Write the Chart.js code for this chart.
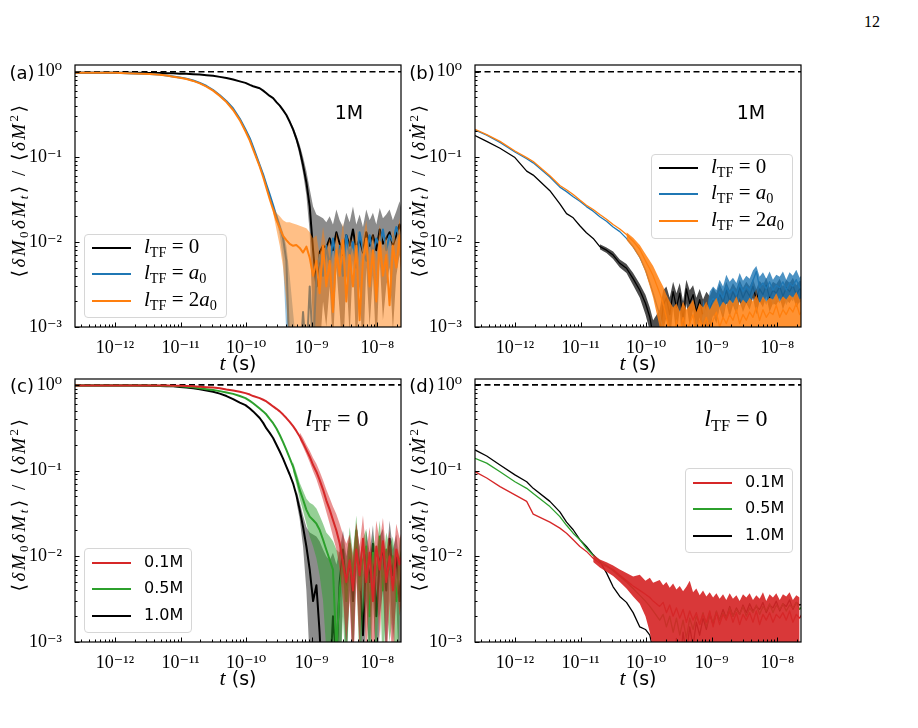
<!DOCTYPE html>
<html><head><meta charset="utf-8">
<script src="https://cdn.jsdelivr.net/npm/chart.js@4.4.0/dist/chart.umd.min.js"></script>
<style>
body{margin:0;background:#fff;width:918px;height:728px;position:relative;overflow:hidden;font-family:'DejaVu Sans',sans-serif;color:#000}
.pane{position:absolute;width:410px;height:325px}
.txt{position:absolute;white-space:nowrap;line-height:1}
.serif{font-family:'Liberation Serif','DejaVu Serif',serif}
.ylab{transform:translate(-50%,-50%) rotate(-90deg);font-size:19px;letter-spacing:2.5px}
.ctr{transform:translate(-50%,-50%)}
.leg{position:absolute;border:1px solid #d6d6d6;border-radius:4px;background:rgba(255,255,255,0.85)}
.row{position:absolute;left:0;height:0}
.sw{position:absolute;left:7px;width:39px;height:0;top:-1px}
.lt{position:absolute;left:59px;transform:translateY(-55%);white-space:nowrap;line-height:1}
sub{font-size:0.68em;vertical-align:-0.28em;line-height:0}
sup{font-size:0.68em;vertical-align:0.5em;line-height:0}
</style></head><body>
<div class="txt serif" style="left:864px;top:14px;font-size:16px">12</div>
<div class="pane" style="left:0;top:55px"><canvas id="ca" width="410" height="325"></canvas></div>
<div class="pane" style="left:400px;top:55px"><canvas id="cb" width="410" height="325"></canvas></div>
<div class="pane" style="left:0;top:369px;height:326px"><canvas id="cc" width="410" height="326"></canvas></div>
<div class="pane" style="left:400px;top:369px;height:326px"><canvas id="cd" width="410" height="326"></canvas></div>

<div class="txt ctr" style="left:22px;top:73px;font-size:18px">(a)</div>
<div class="txt ctr" style="left:422px;top:73px;font-size:18px">(b)</div>
<div class="txt ctr" style="left:22px;top:386px;font-size:18px">(c)</div>
<div class="txt ctr" style="left:422px;top:386px;font-size:18px">(d)</div>

<div class="txt ctr" style="left:349px;top:112px;font-size:19px">1M</div>
<div class="txt ctr" style="left:751px;top:112px;font-size:19px">1M</div>
<div class="txt ctr serif" style="left:337px;top:418px;font-size:24px"><i>l</i><sub>TF</sub> = 0</div>
<div class="txt ctr serif" style="left:736px;top:418px;font-size:24px"><i>l</i><sub>TF</sub> = 0</div>

<div class="txt ctr" style="left:238px;top:363px;font-size:19px"><i class="serif" style="font-size:22px">t</i> (s)</div>
<div class="txt ctr" style="left:638px;top:363px;font-size:19px"><i class="serif" style="font-size:22px">t</i> (s)</div>
<div class="txt ctr" style="left:238px;top:678px;font-size:19px"><i class="serif" style="font-size:22px">t</i> (s)</div>
<div class="txt ctr" style="left:638px;top:678px;font-size:19px"><i class="serif" style="font-size:22px">t</i> (s)</div>

<div class="txt serif ylab" style="left:18px;top:190px">⟨<i>δM</i><sub>0</sub><i>δM</i><sub><i>t</i></sub>⟩ / ⟨<i>δM</i><sup>2</sup>⟩</div>
<div class="txt serif ylab" style="left:418px;top:190px">⟨<i>δṀ</i><sub>0</sub><i>δṀ</i><sub><i>t</i></sub>⟩ / ⟨<i>δṀ</i><sup>2</sup>⟩</div>
<div class="txt serif ylab" style="left:18px;top:504px">⟨<i>δM</i><sub>0</sub><i>δM</i><sub><i>t</i></sub>⟩ / ⟨<i>δM</i><sup>2</sup>⟩</div>
<div class="txt serif ylab" style="left:418px;top:504px">⟨<i>δṀ</i><sub>0</sub><i>δṀ</i><sub><i>t</i></sub>⟩ / ⟨<i>δṀ</i><sup>2</sup>⟩</div>

<div id="legs"></div>

<script>
// ---------------- data ----------------
const T = [2.46e-13,3.71e-13,5.92e-13,1e-12,1.51e-12,1.90e-12,3.41e-12,4.84e-12,6.12e-12,7.73e-12,
 9.77e-12,1.23e-11,1.56e-11,1.97e-11,2.49e-11,3.14e-11,3.97e-11,5.02e-11,6.34e-11,8.01e-11,
 9.77e-11,1.14e-10,1.28e-10,1.61e-10,1.82e-10,2.04e-10,2.29e-10,2.58e-10,2.90e-10,3.26e-10,
 3.66e-10,4.11e-10,4.62e-10,5.20e-10,5.83e-10,6.56e-10,7.38e-10,8.30e-10,9.33e-10,1.05e-9,
 1.18e-9,1.32e-9,1.49e-9,1.67e-9,1.88e-9,2.11e-9,2.38e-9,2.67e-9,3.00e-9,3.37e-9,
 3.79e-9,4.26e-9,4.79e-9,5.38e-9,6.05e-9,6.79e-9,7.64e-9,8.59e-9,9.66e-9,1.09e-8,
 1.22e-8,1.37e-8,1.54e-8,1.73e-8,1.95e-8,2.19e-8,2.46e-8];

const xRange = [2.46e-13, 2.3e-8];
const yMinAll = 1e-3, yMaxTop = 1.2, yMaxBottom = 1.17;
const xTicks = [1e-12,1e-11,1e-10,1e-9,1e-8];
const xTickLabels = ['10⁻¹²','10⁻¹¹','10⁻¹⁰','10⁻⁹','10⁻⁸'];
const yTicks = [1e-3,1e-2,1e-1,1];
const yTickLabels = ['10⁻³','10⁻²','10⁻¹','10⁰'];
const refLine = [1, 1];

// panel (a)
const aBlack = [0.975,0.975,0.975,0.974,0.973,0.972,0.968,0.965,0.962,0.958,
 0.95,0.945,0.935,0.925,0.91,0.895,0.87,0.845,0.81,0.77,
 0.74,0.70,0.675,0.64,0.60,0.56,0.52,0.49,0.44,0.40,
 0.354,0.31,0.258,0.21,0.164,0.12,0.08,0.05,0.026,0.008,
 0.003,0.0075,0.009,0.0085,0.011,0.008,0.013,0.0095,0.007,0.012,
 0.009,0.014,0.008,0.011,0.0075,0.013,0.009,0.012,0.008,0.014,
 0.0095,0.011,0.013,0.009,0.012,0.016,0.011];
const aBlackBandFrom = 32;
const aBlackHi = [0.27,0.225,0.18,0.14,0.1,0.068,0.042,0.026,0.021,0.02,0.019,0.017,
 0.02,0.016,0.024,0.018,0.015,0.022,0.017,0.026,0.016,0.021,0.015,0.024,0.018,0.022,0.016,0.025,0.019,0.021,0.024,0.018,0.023,0.03,0.02];
const aBlackLo = [0.25,0.198,0.15,0.102,0.064,0.035,0.013,0.0008,0.0003,0.0005,0.002,0.001,
 0.003,0.0006,0.005,0.0015,0.0004,0.004,0.0008,0.006,0.0005,0.003,0.0004,0.005,0.001,0.004,0.0005,0.006,0.0012,0.003,0.005,0.0009,0.004,0.007,0.003];
const aBlue = [0.975,0.974,0.972,0.97,0.96,0.955,0.94,0.925,0.905,0.88,
 0.855,0.83,0.79,0.74,0.68,0.61,0.53,0.45,0.37,0.28,
 0.21,0.165,0.13,0.08,0.062,0.047,0.036,0.027,0.02,0.015,
 0.011,0.006,0.0004,0.0002,0.0002,0.0003,0.0015,0.0004,0.003,0.0005,
 0.004,0.007,0.004,0.009,0.005,0.011,0.006,0.009,0.004,0.012,
 0.007,0.01,0.005,0.013,0.008,0.006,0.012,0.007,0.011,0.009,
 0.014,0.008,0.012,0.01,0.015,0.011,0.013];
const aBlueBandFrom = 28;
const aBlueHi = [0.022,0.017,0.013,0.009,0.004,0.0015,0.0006];
const aBlueLo = [0.018,0.012,0.006,0.0008,0.0001,0.0001,0.0001];
const aOrange = [0.975,0.974,0.972,0.97,0.96,0.955,0.94,0.923,0.902,0.875,
 0.85,0.82,0.78,0.73,0.67,0.60,0.52,0.44,0.355,0.27,
 0.2,0.155,0.122,0.077,0.058,0.043,0.032,0.024,0.018,0.0145,
 0.0118,0.0105,0.0095,0.009,0.0092,0.0085,0.0075,0.0088,0.0065,0.004,
 0.006,0.0025,0.009,0.003,0.006,0.0015,0.008,0.004,0.0105,0.002,
 0.007,0.003,0.009,0.0012,0.006,0.011,0.003,0.008,0.002,0.01,
 0.004,0.007,0.0018,0.009,0.005,0.012,0.003];
const aOrangeBandFrom = 27;
const aOrangeHi = [0.026,0.022,0.02,0.018,0.017,0.017,0.0165,0.016,0.0155,0.015,0.0145,0.013,0.011,
 0.012,0.007,0.015,0.008,0.011,0.005,0.013,0.008,0.017,0.006,
 0.012,0.007,0.014,0.005,0.011,0.018,0.007,0.013,0.006,0.016,
 0.008,0.012,0.005,0.014,0.01,0.019,0.007];
const aOrangeLo = [0.022,0.014,0.009,0.005,0.002,0.0004,
 1e-4,1e-4,1e-4,1e-4,1e-4,1e-4,1e-4,1e-4,1e-4,1e-4,1e-4,1e-4,1e-4,1e-4,1e-4,1e-4,1e-4,
 1e-4,1e-4,1e-4,1e-4,1e-4,1e-4,1e-4,1e-4,1e-4,1e-4,1e-4,1e-4,1e-4,1e-4,1e-4,1e-4,1e-4];

// panel (b)
const bBlack = [0.178,0.152,0.126,0.098,0.068,0.061,0.040,0.028,0.0215,0.0192,
 0.0155,0.0128,0.011,0.0088,0.008,0.007,0.0056,0.0049,0.0037,0.0027,
 0.0019,0.0013,0.0008,0.0007,0.0018,0.0022,0.0014,0.0026,0.0017,0.0025,
 0.0012,0.0028,0.0019,0.0024,0.0015,0.0021,0.0013,0.0019,0.0016,0.0022,
 0.0018,0.0025,0.0019,0.0027,0.002,0.0026,0.0021,0.0029,0.0022,0.0027,
 0.0023,0.003,0.0021,0.0028,0.0024,0.0031,0.0022,0.0027,0.0025,0.003,
 0.0023,0.0029,0.0026,0.0031,0.0024,0.0028,0.0027];
const bBlackBandFrom = 13;
const bBlackHi = [0.0094,0.0086,0.0077,0.0062,0.0055,0.0043,0.0032,
 0.0024,0.0017,0.0012,0.0016,0.0027,0.003,0.0022,0.0034,0.0025,0.0033,
 0.002,0.0036,0.0027,0.0031,0.0022,0.0028,0.0021,0.0026,0.0023,0.0029,
 0.0025,0.0032,0.0026,0.0034,0.0027,0.0033,0.0028,0.0036,0.0029,0.0034,
 0.003,0.0037,0.0028,0.0035,0.0031,0.0038,0.0029,0.0034,0.0032,0.0037,
 0.003,0.0036,0.0033,0.0038,0.0031,0.0035,0.0034];
const bBlackLo = [0.0082,0.0074,0.0063,0.005,0.0043,0.0031,0.0022,
 0.0014,0.0009,0.0005,0.0002,0.0009,0.0013,0.0006,0.0017,0.0008,0.0016,
 0.0004,0.0019,0.001,0.0016,0.0008,0.0013,0.0006,0.0011,0.0009,0.0014,
 0.0011,0.0017,0.0012,0.0019,0.0013,0.0018,0.0014,0.002,0.0015,0.0019,
 0.0016,0.0022,0.0014,0.002,0.0017,0.0023,0.0015,0.0019,0.0018,0.0022,
 0.0016,0.0021,0.0019,0.0023,0.0017,0.002,0.002];
const bBlue = [0.206,0.18,0.148,0.114,0.095,0.085,0.058,0.044,0.039,0.034,
 0.03,0.026,0.023,0.0198,0.0175,0.015,0.0132,0.011,0.0088,0.0066,
 0.0047,0.0033,0.0025,0.0014,0.0009,0.0006,0.0004,0.0003,0.0008,0.0004,
 0.0011,0.0005,0.0009,0.0004,0.0012,0.0006,0.0014,0.0009,0.0018,0.0022,
 0.0019,0.0026,0.0022,0.003,0.0025,0.0028,0.0024,0.0032,0.0026,0.003,
 0.0027,0.0035,0.0045,0.0029,0.0033,0.0028,0.0034,0.0027,0.0031,0.0029,
 0.0034,0.0027,0.0033,0.003,0.0036,0.0029,0.0032];
const bBlueBandFrom = 36;
const bBlueHi = [0.0021,0.0015,0.0026,0.003,
 0.0027,0.0036,0.003,0.0041,0.0034,0.0038,0.0033,0.0043,0.0035,0.004,
 0.0037,0.0046,0.0052,0.0039,0.0044,0.0037,0.0045,0.0036,0.0041,0.0039,
 0.0045,0.0036,0.0044,0.004,0.0047,0.0038,0.0043];
const bBlueLo = [0.0007,0.0004,0.0011,0.0014,
 0.0012,0.0017,0.0014,0.002,0.0016,0.0019,0.0015,0.0022,0.0017,0.002,
 0.0018,0.0024,0.0028,0.0019,0.0022,0.0018,0.0023,0.0018,0.0021,0.0019,
 0.0023,0.0018,0.0022,0.002,0.0025,0.0019,0.0022];
const bOrange = [0.21,0.182,0.152,0.117,0.098,0.088,0.06,0.046,0.041,0.036,
 0.031,0.027,0.024,0.021,0.0185,0.016,0.0142,0.0122,0.0102,0.0082,
 0.006,0.0048,0.004,0.0025,0.0019,0.0013,0.0009,0.0006,0.0012,0.0008,
 0.0013,0.0009,0.0011,0.0014,0.0008,0.0012,0.001,0.0013,0.0009,0.0012,
 0.0015,0.001,0.0013,0.0011,0.0014,0.0012,0.0016,0.0011,0.0014,0.0012,
 0.0015,0.0013,0.0017,0.0012,0.0016,0.0013,0.0015,0.0014,0.0018,0.0013,
 0.0016,0.0014,0.0017,0.0015,0.0019,0.0014,0.0016];
const bOrangeBandFrom = 17;
const bOrangeHi = [0.013,0.0112,0.0092,0.0072,0.006,0.0052,0.0036,0.003,0.0024,0.002,0.0017,0.0019,0.0015,
 0.002,0.0016,0.0018,0.0021,0.0015,0.0019,0.0017,0.002,0.0016,0.0019,
 0.0022,0.0017,0.002,0.0018,0.0021,0.0019,0.0023,0.0018,0.0021,0.0019,
 0.0022,0.002,0.0024,0.0019,0.0023,0.002,0.0022,0.0021,0.0025,0.002,
 0.0023,0.0021,0.0024,0.0022,0.0026,0.0021,0.0023];
const bOrangeLo = [0.0105,0.0085,0.0064,0.0044,0.003,0.0022,0.001,0.0006,
 1e-4,1e-4,1e-4,1e-4,1e-4,1e-4,1e-4,1e-4,1e-4,1e-4,1e-4,1e-4,1e-4,1e-4,1e-4,1e-4,1e-4,1e-4,1e-4,1e-4,1e-4,
 1e-4,1e-4,1e-4,1e-4,1e-4,1e-4,1e-4,1e-4,1e-4,1e-4,1e-4,1e-4,1e-4,1e-4,1e-4,1e-4,1e-4,1e-4,1e-4,1e-4,1e-4];

// panel (c)
const cRed = [0.985,0.985,0.985,0.985,0.985,0.984,0.983,0.982,0.98,0.978,
 0.975,0.97,0.96,0.95,0.94,0.93,0.915,0.885,0.86,0.83,
 0.8,0.77,0.74,0.70,0.67,0.64,0.6,0.56,0.525,0.49,
 0.45,0.41,0.37,0.33,0.29,0.25,0.21,0.174,0.145,0.116,
 0.097,0.078,0.06,0.045,0.035,0.0265,0.02,0.0142,0.0083,0.005,
 0.009,0.004,0.012,0.006,0.016,0.005,0.011,0.003,0.013,0.007,
 0.015,0.005,0.01,0.004,0.012,0.008,0.011];
const cRedBandFrom = 35;
const cRedHi = [0.28,0.24,0.2,0.17,0.14,0.12,0.098,0.077,0.06,0.048,0.038,0.031,0.024,0.018,0.014,
 0.018,0.01,0.025,0.013,0.03,0.011,0.022,0.008,0.026,0.015,
 0.028,0.011,0.02,0.009,0.024,0.016,0.022];
const cRedLo = [0.23,0.19,0.155,0.125,0.098,0.079,0.061,0.045,0.033,0.024,0.017,0.012,0.007,0.003,0.001,
 0.003,0.0004,0.005,0.0008,0.007,0.0006,0.004,0.0002,0.005,0.001,
 0.006,0.0005,0.003,0.0003,0.005,0.002,0.004];
const cGreen = [0.985,0.985,0.985,0.984,0.983,0.982,0.98,0.978,0.975,0.97,
 0.96,0.95,0.935,0.91,0.89,0.87,0.845,0.815,0.785,0.74,
 0.7,0.65,0.61,0.53,0.49,0.45,0.4,0.357,0.31,0.26,
 0.215,0.174,0.14,0.111,0.083,0.0594,0.046,0.0348,0.029,0.0265,
 0.024,0.0204,0.0156,0.0119,0.0091,0.007,0.0008,0.004,0.009,0.003,
 0.014,0.006,0.02,0.004,0.009,0.013,0.002,0.011,0.006,0.017,
 0.004,0.012,0.007,0.01,0.003,0.009,0.013];
const cGreenBandFrom = 33;
const cGreenHi = [0.125,0.096,0.072,0.058,0.047,0.042,0.04,0.036,0.03,0.024,0.019,0.017,0.015,0.012,0.011,0.015,0.008,
 0.022,0.011,0.03,0.009,0.016,0.021,0.006,0.018,0.011,0.026,
 0.009,0.019,0.013,0.017,0.007,0.015,0.021];
const cGreenLo = [0.098,0.07,0.047,0.034,0.024,0.017,0.013,0.0095,0.006,0.003,0.0008,0.0002,0.0002,0.0001,0.0003,0.002,0.0003,
 0.005,0.0008,0.008,0.0004,0.002,0.004,0.0002,0.003,0.0006,0.006,
 0.0004,0.003,0.001,0.002,0.0002,0.002,0.004];
const cBlack = [0.985,0.985,0.984,0.983,0.982,0.98,0.975,0.97,0.965,0.96,
 0.945,0.93,0.91,0.89,0.86,0.83,0.79,0.74,0.68,0.62,
 0.58,0.53,0.49,0.41,0.36,0.31,0.275,0.24,0.2,0.167,
 0.138,0.111,0.09,0.071,0.052,0.035,0.022,0.013,0.007,0.003,
 0.0046,0.0013,0.0002,0.0001,0.0003,0.002,0.0006,0.005,0.012,0.004,
 0.01,0.003,0.015,0.007,0.0012,0.011,0.005,0.014,0.002,0.009,
 0.012,0.004,0.016,0.006,0.01,0.003,0.012];
const cBlackBandFrom = 34;
const cBlackHi = [0.06,0.043,0.03,0.022,0.019,0.018,0.017,0.015,0.012,0.01,0.009,0.011,0.008,0.012,0.02,0.01,
 0.018,0.008,0.024,0.013,0.006,0.02,0.011,0.023,0.007,0.017,
 0.021,0.009,0.026,0.012,0.018,0.008,0.02];
const cBlackLo = [0.044,0.027,0.013,0.004,0.0006,0.0002,0.0001,0.0001,0.0001,0.0001,0.0001,0.0001,0.0001,0.0001,0.005,0.0005,
 0.004,0.0004,0.007,0.001,0.0001,0.003,0.0006,0.005,0.0002,0.002,
 0.004,0.0005,0.006,0.001,0.003,0.0003,0.004];

// panel (d)
const dBlack = [0.174,0.148,0.116,0.089,0.074,0.062,0.0437,0.033,0.025,0.0204,
 0.0156,0.013,0.0104,0.0087,0.0064,0.0044,0.0034,0.0029,0.0022,0.0015,
 0.0014,0.0012,0.0008,0.0003,0.0006,0.0002,0.0009,0.0004,0.0011,0.0005,
 0.0013,0.0007,0.0015,0.0009,0.0017,0.0012,0.0019,0.0014,0.0021,0.0016,
 0.0022,0.0018,0.0024,0.0019,0.0026,0.002,0.0025,0.0021,0.0027,0.0022,
 0.0028,0.0023,0.0026,0.0024,0.0029,0.0022,0.0027,0.0025,0.003,0.0023,
 0.0028,0.0026,0.0031,0.0024,0.0029,0.0027,0.0028];
const dGreen = [0.139,0.122,0.097,0.074,0.062,0.054,0.038,0.029,0.023,0.0186,
 0.0156,0.0124,0.0102,0.0088,0.0078,0.0068,0.0058,0.005,0.0042,0.0035,
 0.003,0.0026,0.0023,0.0018,0.0021,0.0015,0.002,0.0013,0.0019,0.0012,
 0.0018,0.0011,0.0019,0.0014,0.002,0.0016,0.0022,0.0015,0.0021,0.0017,
 0.0023,0.0018,0.0022,0.0019,0.0025,0.002,0.0024,0.0021,0.0026,0.002,
 0.0025,0.0022,0.0027,0.0021,0.0026,0.0023,0.0028,0.0022,0.0027,0.0024,
 0.0028,0.0023,0.0027,0.0025,0.0029,0.0024,0.0027];
const dRed = [0.097,0.082,0.065,0.052,0.0437,0.031,0.025,0.0213,0.0186,0.0156,
 0.013,0.0114,0.0095,0.0083,0.0076,0.007,0.006,0.0052,0.0045,0.004,
 0.0036,0.0033,0.003,0.0026,0.0029,0.0022,0.0027,0.002,0.0025,0.0019,
 0.0024,0.0017,0.0023,0.0018,0.0022,0.0016,0.0021,0.0017,0.0023,0.0015,
 0.0022,0.0016,0.0021,0.0018,0.0023,0.0017,0.0022,0.0016,0.0021,0.0018,
 0.0022,0.0017,0.0023,0.0016,0.0021,0.0018,0.0022,0.0017,0.0021,0.0019,
 0.0022,0.0018,0.0023,0.0017,0.0021,0.0019,0.0022];
const dRedBandFrom = 12;
const dRedHi = [0.0105,0.0092,0.0085,0.0078,0.007,0.0064,0.0058,0.0061,
 0.0052,0.0056,0.0049,0.0053,0.0046,0.005,0.0043,0.0048,0.0041,0.0045,
 0.0039,0.0044,0.0052,0.0038,0.0042,0.0035,0.004,0.0034,0.0038,0.0033,
 0.0037,0.0032,0.0036,0.0031,0.0037,0.0032,0.0035,0.003,0.0036,0.0033,
 0.0037,0.0031,0.0035,0.0032,0.0038,0.003,0.0036,0.0033,0.0037,0.0031,
 0.0036,0.0034,0.0038,0.0031,0.0035,0.0033,0.0036];
const dRedLo = [0.0086,0.0074,0.0066,0.0059,0.005,0.0042,0.0034,0.0028,0.002,0.0013,0.0008,
 1e-4,1e-4,1e-4,1e-4,1e-4,1e-4,1e-4,1e-4,1e-4,1e-4,1e-4,1e-4,1e-4,1e-4,1e-4,1e-4,1e-4,1e-4,1e-4,1e-4,1e-4,1e-4,
 1e-4,1e-4,1e-4,1e-4,1e-4,1e-4,1e-4,1e-4,1e-4,1e-4,1e-4,1e-4,1e-4,1e-4,1e-4,1e-4,1e-4,1e-4,1e-4,1e-4,1e-4];

// legends
const legendTF = ['<i>l</i><sub>TF</sub> = 0', '<i>l</i><sub>TF</sub> = <i>a</i><sub>0</sub>', '<i>l</i><sub>TF</sub> = 2<i>a</i><sub>0</sub>'];
const legendM = ['0.1M', '0.5M', '1.0M'];

// ---------------- styling ----------------
const C = {black:'#000000', blue:'#1f77b4', orange:'#ff7f0e', red:'#d62728', green:'#2ca02c'};
const SERIF = "'Liberation Serif','DejaVu Serif',serif";

function pts(arr, from){ return arr.map((v,i)=>({x:T[from+i], y:v})); }
function line(arr, color, w, order){ return {data:pts(arr,0), borderColor:color, borderWidth:w, pointRadius:0, fill:false, order, tension:0, borderJoinStyle:'round'}; }
function band(hi, lo, from, color, order){
  return [
    {data:pts(hi,from), borderColor:'rgba(0,0,0,0)', borderWidth:0, backgroundColor:color, pointRadius:0, fill:'+1', order},
    {data:pts(lo,from), borderColor:'rgba(0,0,0,0)', borderWidth:0, pointRadius:0, fill:false, order}
  ];
}
function dashed(){ return {data:[{x:xRange[0],y:refLine[0]},{x:xRange[1],y:refLine[1]}], borderColor:'#000', borderWidth:1.6, borderDash:[6,3.5], pointRadius:0, fill:false, order:20}; }

const frameTicks = {
  id:'frameTicks',
  afterDatasetsDraw(chart){
    const {ctx, chartArea:a, scales:{x,y}} = chart;
    ctx.save();
    ctx.strokeStyle='#000'; ctx.lineWidth=1;
    ctx.beginPath();
    for(let e=-13;e<=-7;e++) for(let k=1;k<=9;k++){
      const v=k*Math.pow(10,e); if(v<x.min||v>x.max) continue;
      const px=Math.round(x.getPixelForValue(v))+0.5;
      ctx.moveTo(px,a.bottom); ctx.lineTo(px,a.bottom-(k===1?4.5:2.5));
    }
    for(let e=-3;e<=0;e++) for(let k=1;k<=9;k++){
      const v=k*Math.pow(10,e); if(v<y.min||v>y.max) continue;
      const py=Math.round(y.getPixelForValue(v))+0.5;
      ctx.moveTo(a.left,py); ctx.lineTo(a.left+(k===1?4.5:2.5),py);
    }
    ctx.stroke();
    ctx.lineWidth=1.2;
    ctx.strokeRect(a.left,a.top,a.right-a.left,a.bottom-a.top);
    ctx.restore();
  }
};

function zeroPad(s){ s.paddingTop=0; s.paddingBottom=0; s.paddingLeft=0; s.paddingRight=0; }

function makeChart(id, datasets, yMax){
  return new Chart(document.getElementById(id), {
    type:'line',
    data:{datasets},
    options:{
      responsive:false, animation:false, devicePixelRatio:1,
      layout:{padding:{top:10,right:9,left:0,bottom:0}},
      plugins:{legend:{display:false}, tooltip:{enabled:false}},
      scales:{
        x:{type:'logarithmic', min:xRange[0], max:xRange[1], grid:{display:false}, border:{display:false},
           afterBuildTicks:s=>{ s.ticks = xTicks.map(v=>({value:v})); },
           afterFit:s=>{ s.height = 53; zeroPad(s); },
           ticks:{autoSkip:false, maxRotation:0, minRotation:0, padding:2, color:'#000', font:{family:SERIF, size:18}, callback:(v,i)=>xTickLabels[i]}},
        y:{type:'logarithmic', min:yMinAll, max:yMax, grid:{display:false}, border:{display:false},
           afterBuildTicks:s=>{ s.ticks = yTicks.map(v=>({value:v})); },
           afterFit:s=>{ s.width = 75; zeroPad(s); },
           ticks:{autoSkip:false, padding:5, color:'#000', font:{family:SERIF, size:18}, callback:(v,i)=>yTickLabels[i]}}
      }
    },
    plugins:[frameTicks]
  });
}

makeChart('ca', [
  line(aOrange, C.orange, 2, 0), ...band(aOrangeHi, aOrangeLo, aOrangeBandFrom, 'rgba(255,127,14,0.5)', 1),
  line(aBlue, C.blue, 2, 2), ...band(aBlueHi, aBlueLo, aBlueBandFrom, 'rgba(31,119,180,0.45)', 3),
  line(aBlack, C.black, 2, 4), ...band(aBlackHi, aBlackLo, aBlackBandFrom, 'rgba(0,0,0,0.45)', 5),
  dashed()
], yMaxTop);

makeChart('cb', [
  line(bOrange, C.orange, 1.3, 0), ...band(bOrangeHi, bOrangeLo, bOrangeBandFrom, 'rgba(255,127,14,0.85)', 1),
  line(bBlue, C.blue, 1.3, 2), ...band(bBlueHi, bBlueLo, bBlueBandFrom, 'rgba(31,119,180,0.8)', 3),
  line(bBlack, C.black, 1.3, 4), ...band(bBlackHi, bBlackLo, bBlackBandFrom, 'rgba(0,0,0,0.7)', 5),
  dashed()
], yMaxTop);

makeChart('cc', [
  line(cRed, C.red, 2, 0), ...band(cRedHi, cRedLo, cRedBandFrom, 'rgba(214,39,40,0.5)', 1),
  line(cGreen, C.green, 2, 2), ...band(cGreenHi, cGreenLo, cGreenBandFrom, 'rgba(44,160,44,0.5)', 3),
  line(cBlack, C.black, 2, 4), ...band(cBlackHi, cBlackLo, cBlackBandFrom, 'rgba(0,0,0,0.45)', 5),
  dashed()
], yMaxBottom);

makeChart('cd', [
  line(dRed, C.red, 1.3, 0), ...band(dRedHi, dRedLo, dRedBandFrom, 'rgba(214,39,40,0.92)', 1),
  line(dGreen, C.green, 1.3, 2),
  line(dBlack, C.black, 1.3, 4),
  dashed()
], yMaxBottom);

// ---------------- legends (HTML) ----------------
function legend(left, top, w, h, rowsY, labels, colors, cls, size){
  const box = document.createElement('div');
  box.className='leg'; box.style.cssText += `left:${left}px;top:${top}px;width:${w}px;height:${h}px`;
  labels.forEach((lab,i)=>{
    const r=document.createElement('div'); r.className='row'; r.style.top=(rowsY[i]-top-1)+'px';
    r.innerHTML=`<div class="sw" style="border-top:2px solid ${colors[i]}"></div><div class="lt ${cls}" style="font-size:${size}px">${lab}</div>`;
    box.appendChild(r);
  });
  document.getElementById('legs').appendChild(box);
}
legend(84,234,141,82,[248,274,301], legendTF, [C.black,C.blue,C.orange], 'serif', 21);
legend(651,154,140,83,[168,194,221], legendTF, [C.black,C.blue,C.orange], 'serif', 21);
legend(84,548,106,83,[563,589,616], legendM, [C.red,C.green,C.black], '', 16);
legend(685,468,106,83,[483,509,536], legendM, [C.red,C.green,C.black], '', 16);
</script>
</body></html>
